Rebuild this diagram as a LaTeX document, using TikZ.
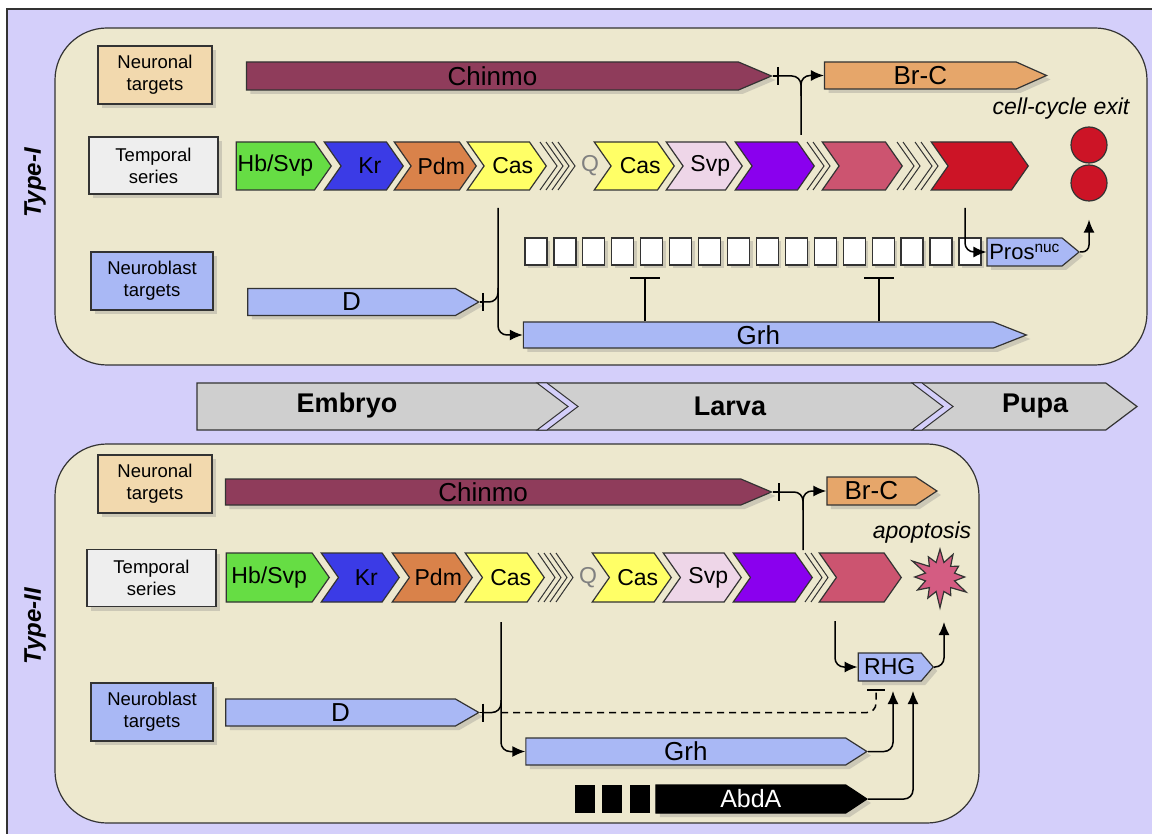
\documentclass[tikz,border=0pt]{standalone}
\usepackage{fontspec}
\setmainfont{Liberation Sans}
\usetikzlibrary{shapes.symbols,shadows,arrows.meta}

\definecolor{bgLav}{HTML}{D4CFFA}
\definecolor{panelBg}{HTML}{EDE8CE}
\definecolor{tanBox}{HTML}{F2D9AE}
\definecolor{greyBox}{HTML}{EEEEEE}
\definecolor{blueBox}{HTML}{A9B8F5}
\definecolor{chinmoCol}{HTML}{8F3C5B}
\definecolor{brcCol}{HTML}{E6A66A}
\definecolor{hbCol}{HTML}{66DD44}
\definecolor{krCol}{HTML}{3B3BE6}
\definecolor{pdmCol}{HTML}{D9824A}
\definecolor{casCol}{HTML}{FFFF66}
\definecolor{svpCol}{HTML}{EED6E8}
\definecolor{purCol}{HTML}{8A00EE}
\definecolor{roseCol}{HTML}{CC5470}
\definecolor{redCol}{HTML}{CC1426}
\definecolor{stageCol}{HTML}{CFCFCF}
\definecolor{burstCol}{HTML}{D45C82}
\definecolor{lineCol}{HTML}{333333}

\newcommand{\fsLab}{\fontsize{18.5}{22}\selectfont}
\newcommand{\fsGene}{\fontsize{26}{30}\selectfont}
\newcommand{\fsSeq}{\fontsize{23}{26}\selectfont}
\newcommand{\fsSmall}{\fontsize{22}{25}\selectfont}
\newcommand{\fsNote}{\fontsize{23}{26}\selectfont\itshape}
\newcommand{\fsStage}{\fontsize{27}{30}\selectfont\bfseries}

\begin{document}
\begin{tikzpicture}[x=1pt,y=-1pt]

	\useasboundingbox (0,0) rectangle (1152,834);

	\tikzstyle{panel}=[draw=lineCol, line width=1.2pt, fill=panelBg, rounded corners=52pt]
	\tikzstyle{rowLabel}=[draw=lineCol, line width=1.2pt, rectangle, align=center, font=\fsLab, inner sep=0pt, drop shadow={shadow xshift=4pt, shadow yshift=-4pt, opacity=.3}]
	\tikzstyle{arrowBox}=[signal, signal to=east, anchor=east, draw=lineCol, line width=1.2pt, inner sep=0pt]
	\tikzstyle{gene}=[arrowBox, minimum height=27pt, font=\fsGene, drop shadow={shadow xshift=4pt, shadow yshift=-4pt, opacity=.3}]
	\tikzstyle{series}=[arrowBox, signal pointer angle=110, minimum height=48pt, font=\fsSeq]
	\tikzstyle{seriesN}=[series, signal from=west]
	\tikzstyle{seqText}=[font=\fsSeq, xshift=6pt]
	\tikzstyle{cell}=[draw=lineCol, line width=1.2pt, rectangle, fill=white, minimum width=22pt, minimum height=27pt, inner sep=0pt, drop shadow={shadow xshift=3pt, shadow yshift=-3pt, opacity=.3}]
	\tikzstyle{sepLine}=[draw=lineCol, line width=1pt]

	\tikzstyle{linkLine}=[line width=1.5pt, rounded corners=9pt]
	\tikzstyle{linkAct}=[linkLine, -{Latex[length=13pt,width=11pt]}]
	\tikzstyle{linkInh}=[linkLine, -{Bar[width=18pt,line width=1.8pt]}]

	% frame and panels
	\draw[fill=bgLav, draw=lineCol, line width=1.2pt] (7,9) rectangle (1175,860);
	\draw[panel] (55,28) rectangle (1147,365);
	\draw[panel] (55,444) rectangle (979,823);

	\node[rotate=90, font=\fontsize{24}{28}\selectfont\bfseries\itshape] (T1) at (35,183) {Type-I};
	\node[rotate=90, font=\fontsize{24}{28}\selectfont\bfseries\itshape] (T2) at (35,626) {Type-II};

	%%% Type-I
	\node[rowLabel, fill=tanBox, minimum width=114pt, minimum height=58pt] (N1) at (155,75) {Neuronal\\targets};
	\node[rowLabel, fill=greyBox, minimum width=129pt, minimum height=57pt] (S1) at (153.5,165.5) {Temporal\\series};
	\node[rowLabel, fill=blueBox, minimum width=122pt, minimum height=58pt] (B1) at (152,281) {Neuroblast\\targets};

	\node[gene, fill=chinmoCol, minimum width=525pt, minimum height=28pt, signal pointer angle=46] (C1) at (773,76) {Chinmo};
	\node[gene, fill=brcCol, minimum width=222pt, signal pointer angle=48] (R1) at (1048,75.5) {Br-C};

	\node[series, fill=hbCol, minimum width=95pt] (Hb1) at (332,166) {Hb/Svp};
	\node[seriesN, fill=krCol, minimum width=79pt, label={[seqText]center:Kr}] (Kr1) at (404,166) {};
	\node[seriesN, fill=pdmCol, minimum width=82pt, label={[seqText]center:Pdm}] (Pd1) at (477,166) {};
	\node[seriesN, fill=casCol, minimum width=79pt, label={[seqText]center:Cas}] (Ca1) at (547,166) {};
	\node[font=\fsSeq, text=gray] (Q1) at (590,166) {Q};
	\node[seriesN, fill=casCol, minimum width=80pt, label={[seqText]center:Cas}] (Cb1) at (675,166) {};
	\node[seriesN, fill=svpCol, minimum width=76pt, label={[seqText]center:Svp}] (Sv1) at (743,166) {};
	\node[seriesN, fill=purCol, minimum width=79pt] (Pu1) at (815,166) {};
	\node[seriesN, fill=roseCol, minimum width=80pt] (Ro1) at (903,166) {};
	\node[seriesN, fill=redCol, minimum width=97pt] (Re1) at (1029,166) {};
	\foreach \sx in {540,552,807,897,915}
		\draw[sepLine] (\sx,142) -- (\sx+17,166) -- (\sx,190) (\sx+6,142) -- (\sx+23,166) -- (\sx+6,190);

	\node[font=\fsNote] (X1) at (1061,109) {cell-cycle exit};
	\node[circle, fill=redCol, draw=lineCol, line width=1.2pt, minimum size=36pt] (E1) at (1089,145) {};
	\node[circle, fill=redCol, draw=lineCol, line width=1.2pt, minimum size=36pt] (E2) at (1089,183) {};

	\foreach \i in {0,...,15}
		\node[cell] (sq\i) at (536+28.93*\i,251.5) {};
	\node[gene, fill=blueBox, minimum width=92pt, minimum height=28pt, signal pointer angle=79, font=\fsSmall] (P1) at (1080,252) {Pros\textsuperscript{nuc}};

	\node[gene, fill=blueBox, minimum width=231pt, signal pointer angle=60] (D1) at (480,302) {D};
	\node[gene, fill=blueBox, minimum width=503pt, minimum height=26pt, signal pointer angle=43] (G1) at (1028,335) {Grh};

	\coordinate (cb1) at (779,76);
	\coordinate (cj1) at (801,96);
	\coordinate (cv1) at (801,135);
	\draw[linkInh] (C1.east) -- (cb1);
	\draw[linkLine] (cb1) -| (cj1);
	\draw[linkAct] (cv1) |- (R1.west);

	\coordinate (db1) at (484,302);
	\coordinate (dj1) at (498,288);
	\coordinate (cv2) at (498,208);
	\draw[linkInh] (D1.east) -- (db1);
	\draw[linkLine] (db1) -| (dj1);
	\draw[linkAct] (cv2) |- (G1.west);

	\coordinate (gi1) at (645,277);
	\coordinate (gi2) at (879,277);
	\draw[linkLine, -{Bar[width=30pt,line width=1.8pt]}] (G1.north -| gi1) -- (gi1);
	\draw[linkLine, -{Bar[width=30pt,line width=1.8pt]}] (G1.north -| gi2) -- (gi2);

	\coordinate (rv1) at (965,208);
	\draw[linkAct] (rv1) |- (P1.west);
	\draw[linkAct, rounded corners=7pt, shorten >=18pt] (P1.east) -| (E2.south);

	%%% stages
	\node[arrowBox, fill=stageCol, minimum width=940pt, minimum height=47pt, signal pointer angle=74] (TL) at (1138,406.5) {};
	\foreach \sx in {537,912}
		\draw[sepLine, fill=bgLav] (\sx,383) -- (\sx+10,383) -- (\sx+41,406.5) -- (\sx+10,430) -- (\sx,430) -- (\sx+31,406.5) -- cycle;
	\node[font=\fsStage] (St1) at (347,406) {Embryo};
	\node[font=\fsStage] (St2) at (730,406) {Larva};
	\node[font=\fsStage] (St3) at (1035,406) {Pupa};

	%%% Type-II
	\node[rowLabel, fill=tanBox, minimum width=114pt, minimum height=58pt] (N2) at (155,484) {Neuronal\\targets};
	\node[rowLabel, fill=greyBox, minimum width=129pt, minimum height=57pt] (S2) at (151.5,578) {Temporal\\series};
	\node[rowLabel, fill=blueBox, minimum width=122pt, minimum height=58pt] (B2) at (152,712) {Neuroblast\\targets};

	\node[gene, fill=chinmoCol, minimum width=546pt, minimum height=26pt, signal pointer angle=46] (C2) at (773,492) {Chinmo};
	\node[gene, fill=brcCol, minimum width=110pt, minimum height=28pt, signal pointer angle=67] (R2) at (938,491) {Br-C};

	\node[series, fill=hbCol, minimum width=103pt, minimum height=49pt] (Hb2) at (330,577.5) {Hb/Svp};
	\node[seriesN, fill=krCol, minimum width=78pt, minimum height=49pt, label={[seqText]center:Kr}] (Kr2) at (400,577.5) {};
	\node[seriesN, fill=pdmCol, minimum width=80pt, minimum height=49pt, label={[seqText]center:Pdm}] (Pd2) at (473,577.5) {};
	\node[seriesN, fill=casCol, minimum width=79pt, minimum height=49pt, label={[seqText]center:Cas}] (Ca2) at (545,577.5) {};
	\node[font=\fsSeq, text=gray] (Q2) at (588,577.5) {Q};
	\node[seriesN, fill=casCol, minimum width=79pt, minimum height=49pt, label={[seqText]center:Cas}] (Cb2) at (672,577.5) {};
	\node[seriesN, fill=svpCol, minimum width=78pt, minimum height=49pt, label={[seqText]center:Svp}] (Sv2) at (742,577.5) {};
	\node[seriesN, fill=purCol, minimum width=79pt, minimum height=49pt] (Pu2) at (813,577.5) {};
	\node[seriesN, fill=roseCol, minimum width=82pt, minimum height=49pt] (Ro2) at (902,577.5) {};
	\foreach \sx in {538,550,805}
		\draw[sepLine] (\sx,553) -- (\sx+17,577.5) -- (\sx,602) (\sx+6,553) -- (\sx+23,577.5) -- (\sx+6,602);

	\node[font=\fsNote] (X2) at (922,533) {apoptosis};
	\node[starburst, starburst points=12, starburst point height=18pt, fill=burstCol, draw=lineCol, line width=1.2pt, minimum width=66pt, minimum height=66pt, inner sep=0pt] (AP) at (940,577) {};

	\node[gene, fill=blueBox, minimum width=75pt, minimum height=28pt, signal pointer angle=99, font=\fontsize{23}{26}\selectfont] (RHG) at (934,667) {RHG};
	\node[gene, fill=blueBox, minimum width=253pt, signal pointer angle=60] (D2) at (480,712.5) {D};
	\node[gene, fill=blueBox, minimum width=341pt, signal pointer angle=65] (G2) at (868,751.5) {Grh};
	\foreach \i/\ax in {0/585,1/612,2/640}
		\node[rectangle, fill=black, minimum width=20pt, minimum height=28pt, inner sep=0pt] (ab\i) at (\ax,799) {};
	\node[gene, fill=black, draw=black, text=white, minimum width=211pt, minimum height=28pt, signal pointer angle=67, font=\fontsize{25}{28}\selectfont] (A2) at (868,799) {AbdA};

	\coordinate (cb2) at (780,492);
	\coordinate (cj2) at (803,510);
	\coordinate (cv3) at (803,550);
	\draw[linkInh] (C2.east) -- (cb2);
	\draw[linkLine] (cb2) -| (cj2);
	\draw[linkAct] (cv3) |- (R2.west);

	\coordinate (db2) at (484,712.5);
	\coordinate (dj2) at (501,700);
	\coordinate (cv4) at (501,622);
	\coordinate (dd2) at (501,712.5);
	\coordinate (rb2) at (876,689);
	\draw[linkInh] (D2.east) -- (db2);
	\draw[linkLine] (db2) -| (dj2);
	\draw[linkAct] (cv4) |- (G2.west);
	\draw[linkInh, dash pattern=on 7pt off 5pt] (dd2) -| (rb2);

	\coordinate (pv2) at (835,621);
	\coordinate (ri1) at (893,691);
	\coordinate (ri2) at (913,691);
	\coordinate (ai2) at (944,622);
	\draw[linkAct] (pv2) |- (RHG.west);
	\draw[linkAct] (G2.east) -| (ri1);
	\draw[linkAct] (A2.east) -| (ri2);
	\draw[linkAct] (RHG.east) -| (ai2);

\end{tikzpicture}
\end{document}
